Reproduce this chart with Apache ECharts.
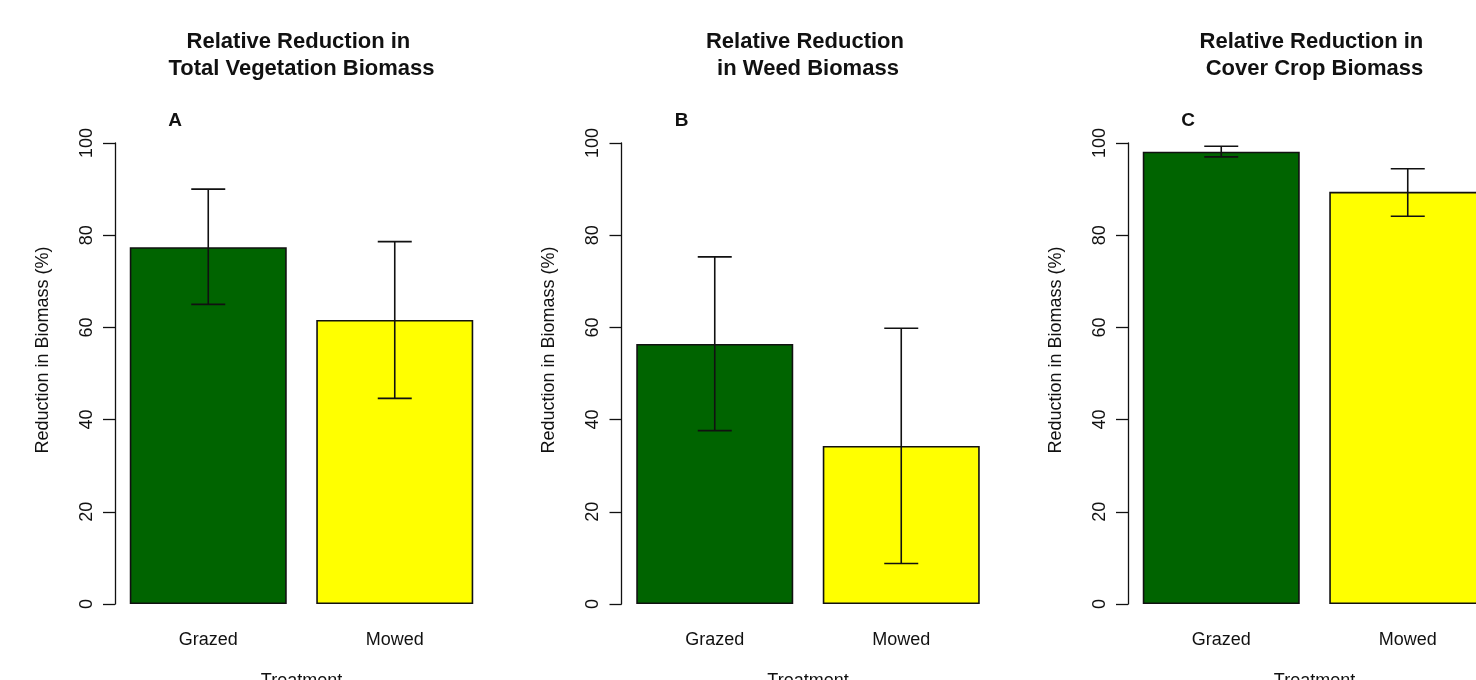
<!DOCTYPE html>
<html>
<head>
<meta charset="utf-8">
<script src="https://cdn.jsdelivr.net/npm/echarts@6/dist/echarts.min.js"></script>
<style>
html,body{margin:0;padding:0;background:#fff;}
#chart{width:1476px;height:680px;}
</style>
</head>
<body>
<div id="chart"></div>
<script>
// ---- data ----
const treatments = ['Grazed', 'Mowed'];
const panelTitles = [
  'Relative Reduction in \nTotal Vegetation Biomass',
  'Relative Reduction \nin Weed Biomass',
  'Relative Reduction in \nCover Crop Biomass'
];
const panelLetters = ['A', 'B', 'C'];
const yAxisTitle = 'Reduction in Biomass (%)';
const xAxisTitle = 'Treatment';
const barColors = ['#006400', '#FFFF00'];

const totalMean  = [77.4, 61.6];
const totalLower = [65.0, 44.6];
const totalUpper = [90.0, 78.6];

const weedMean  = [56.4, 34.3];
const weedLower = [37.6, 8.8];
const weedUpper = [75.3, 59.8];

const coverMean  = [98.1, 89.4];
const coverLower = [97.0, 84.1];
const coverUpper = [99.3, 94.4];

const yMin = 0, yMax = 100, yInterval = 20;

const panels = [
  {mean: totalMean, lower: totalLower, upper: totalUpper},
  {mean: weedMean, lower: weedLower, upper: weedUpper},
  {mean: coverMean, lower: coverLower, upper: coverUpper}
];

// ---- layout ----
const FONT = "'Liberation Sans', Arial, Helvetica, sans-serif";
const gridLefts = [115, 621.5, 1128];
const gridWidth = 373;
const gridTop = 143;
const gridHeight = 461;

const grids = [], xAxes = [], yAxes = [], series = [], graphics = [];

panels.forEach((p, i) => {
  grids.push({left: gridLefts[i], top: gridTop, width: gridWidth, height: gridHeight,
    containLabel: false, outerBoundsMode: 'none'});
  xAxes.push({
    type: 'category', gridIndex: i, data: treatments, boundaryGap: true,
    axisLine: {show: false}, axisTick: {show: false},
    axisLabel: {margin: 27, fontSize: 18, color: '#111', fontFamily: FONT},
    name: xAxisTitle, nameLocation: 'middle', nameGap: 68,
    nameTextStyle: {fontSize: 18, color: '#111', fontFamily: FONT}
  });
  yAxes.push({
    type: 'value', gridIndex: i, min: yMin, max: yMax, interval: yInterval,
    axisLine: {show: true, lineStyle: {color: '#111', width: 1.3}},
    axisTick: {show: true, length: 12, lineStyle: {color: '#111', width: 1.3}},
    splitLine: {show: false},
    axisLabel: {rotate: 90, margin: 19, fontSize: 18, color: '#111', fontFamily: FONT}
  });
  series.push({
    type: 'bar', xAxisIndex: i, yAxisIndex: i, barWidth: 157,
    data: p.mean.map((v, k) => ({value: v, itemStyle: {color: barColors[k]}})),
    itemStyle: {borderColor: '#111', borderWidth: 1.6},
    z: 2
  });
  series.push({
    type: 'custom', xAxisIndex: i, yAxisIndex: i,
    data: p.mean.map((v, k) => [k, p.lower[k], p.upper[k]]),
    encode: {x: 0, y: [1, 2]},
    z: 5,
    renderItem: function (params, api) {
      const x = api.value(0);
      const lo = api.coord([x, api.value(1)]);
      const hi = api.coord([x, api.value(2)]);
      const cx = lo[0], w = 17;
      const st = {stroke: '#111', lineWidth: 1.6};
      return {type: 'group', children: [
        {type: 'line', shape: {x1: cx, y1: hi[1], x2: cx, y2: lo[1]}, style: st},
        {type: 'line', shape: {x1: cx - w, y1: hi[1], x2: cx + w, y2: hi[1]}, style: st},
        {type: 'line', shape: {x1: cx - w, y1: lo[1], x2: cx + w, y2: lo[1]}, style: st}
      ]};
    }
  });
  const cx = gridLefts[i] + gridWidth / 2;
  graphics.push({
    type: 'text', x: cx, y: 55,
    style: {text: panelTitles[i], x: 0, y: 0, align: 'center', verticalAlign: 'middle',
      font: "bold 22px " + FONT, lineHeight: 27, fill: '#111'}
  });
  graphics.push({
    type: 'text', x: gridLefts[i] + 60, y: 121,
    style: {text: panelLetters[i], align: 'center', verticalAlign: 'middle',
      font: "bold 19px " + FONT, fill: '#111'}
  });
  graphics.push({
    type: 'text', x: gridLefts[i] - 72, y: 350, rotation: Math.PI / 2,
    style: {text: yAxisTitle, align: 'center', verticalAlign: 'middle',
      font: "18px " + FONT, fill: '#111'}
  });
});

const chart = echarts.init(document.getElementById('chart'), null, {renderer: 'canvas'});
chart.setOption({
  animation: false,
  backgroundColor: '#fff',
  grid: grids, xAxis: xAxes, yAxis: yAxes, series: series,
  graphic: graphics
});
</script>
</body>
</html>
